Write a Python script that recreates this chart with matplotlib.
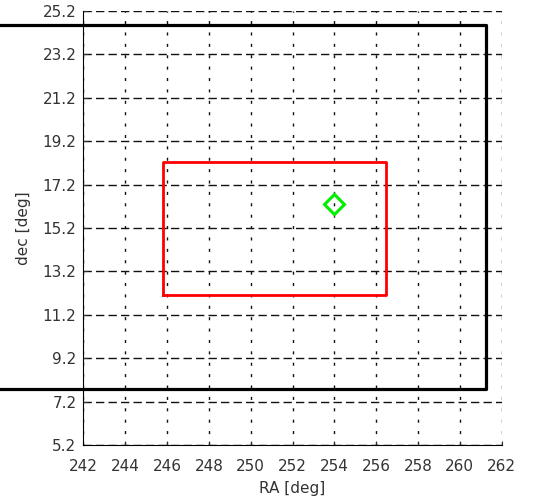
import matplotlib
matplotlib.use("Agg")
import matplotlib.pyplot as plt
import numpy as np

# field outlines in RA / dec (deg)
outer_ra = [236.25, 261.25]
outer_dec = [7.77, 24.55]
inner_ra = [245.8, 256.45]
inner_dec = [12.1, 18.25]
target_ra = [254.0]
target_dec = [16.3]

xticks = np.arange(242, 263, 2)
yticks = [5.2, 7.2, 9.2, 11.2, 13.2, 15.2, 17.2, 19.2, 21.2, 23.2, 25.2]

plt.rcParams['lines.scale_dashes'] = False
plt.rcParams['font.family'] = 'DejaVu Sans'

fig = plt.figure(figsize=(5.39, 4.98), dpi=100)
ax = fig.add_axes([0.1546, 0.1064, 0.7762, 0.8715])

def box(ra, dec, **kw):
    xs = [ra[0], ra[1], ra[1], ra[0], ra[0]]
    ys = [dec[0], dec[0], dec[1], dec[1], dec[0]]
    return ax.plot(xs, ys, **kw)

box(outer_ra, outer_dec, color='black', lw=2.3, clip_on=False, zorder=3)
box(inner_ra, inner_dec, color='red', lw=2.0, zorder=3)
ax.plot(target_ra, target_dec, marker='D', ms=10, mfc='none', mec='#00ee00',
        mew=2.2, ls='none', zorder=4)

ax.set_xlim(242, 262)
ax.set_ylim(5.2, 25.2)
ax.set_xticks(xticks)
ax.set_xticklabels([str(v) for v in xticks])
ax.set_yticks(yticks)
ax.set_yticklabels(['%.1f' % v for v in yticks])

ax.xaxis.grid(True, color='#111111', lw=1.0, linestyle=(0, (2.2, 6.0)))
ax.yaxis.grid(True, color='#111111', lw=1.0, linestyle=(0, (6.0, 3.0)))
ax.set_axisbelow(True)

for side in ['top', 'right']:
    ax.spines[side].set_visible(False)
ax.spines['left'].set_linewidth(0.8)
ax.spines['bottom'].set_linewidth(0.8)

ax.tick_params(direction='in', length=3, width=0.8, labelsize=11,
               colors='#333333')
ax.tick_params(axis='x', pad=10)
ax.tick_params(axis='y', pad=5)

ax.set_xlabel('RA [deg]', fontsize=11, labelpad=5, color='#333333')
ax.set_ylabel('dec [deg]', fontsize=11, labelpad=8, color='#333333')

fig.savefig('out.png', dpi=100)
